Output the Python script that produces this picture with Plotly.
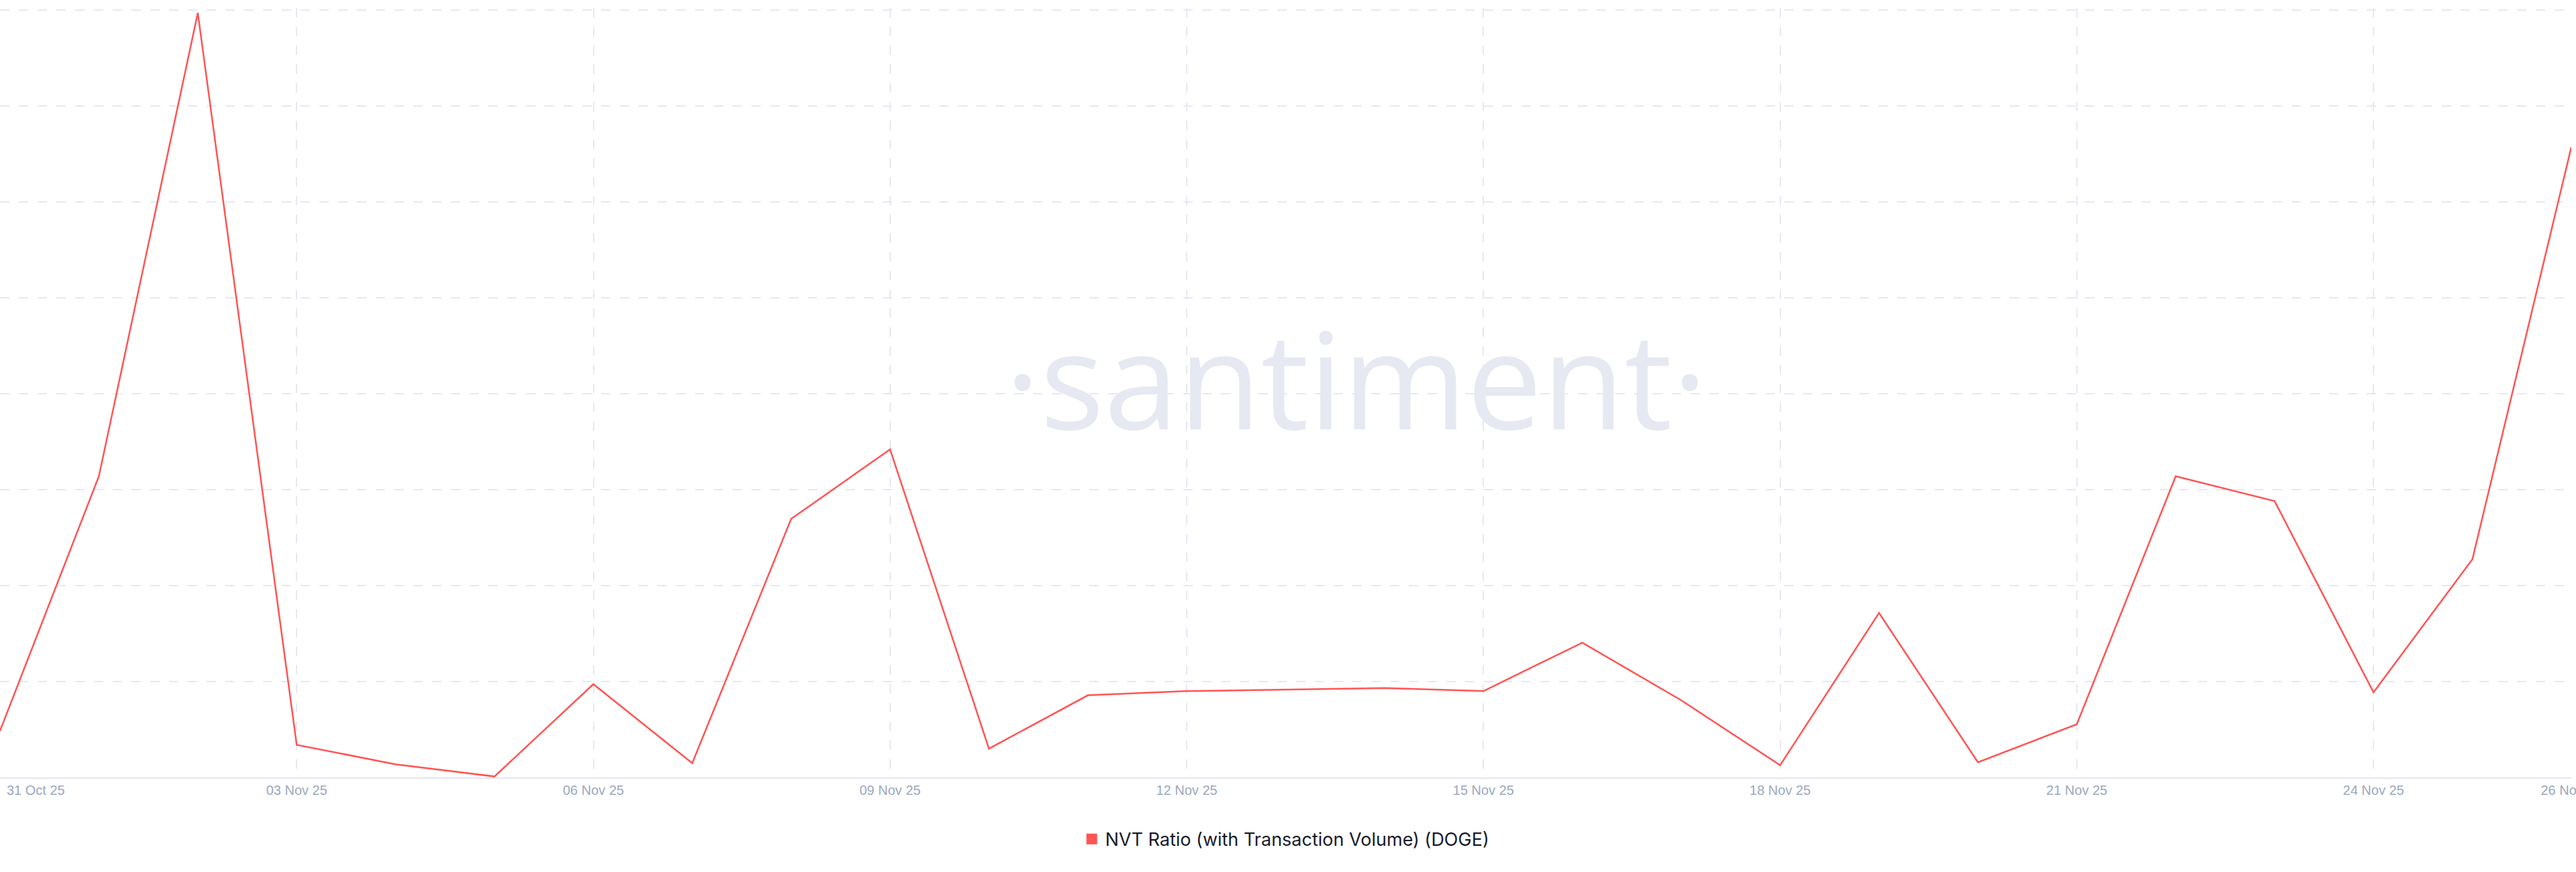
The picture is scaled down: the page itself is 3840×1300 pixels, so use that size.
import plotly.graph_objects as go

# ---- data (y-axis is unlabeled, units arbitrary) ----
dates = [
    "2025-10-31", "2025-11-01", "2025-11-02", "2025-11-03", "2025-11-04", "2025-11-05",
    "2025-11-06", "2025-11-07", "2025-11-08", "2025-11-09", "2025-11-10", "2025-11-11",
    "2025-11-12", "2025-11-13", "2025-11-14", "2025-11-15", "2025-11-16", "2025-11-17",
    "2025-11-18", "2025-11-19", "2025-11-20", "2025-11-21", "2025-11-22", "2025-11-23",
    "2025-11-24", "2025-11-25", "2025-11-26",
]
nvt_values = [
    4.85, 31.4, 79.7, 3.4, 1.36, 0.1,
    9.72, 1.48, 26.95, 34.2, 3.0, 8.56,
    9.0, 9.13, 9.31, 9.0, 14.05, 8.04,
    1.27, 17.15, 1.58, 5.54, 31.4, 28.8,
    8.87, 22.74, 65.7,
]
series_name = "NVT Ratio (with Transaction Volume) (DOGE)"

tick_dates = ["2025-10-31", "2025-11-03", "2025-11-06", "2025-11-09", "2025-11-12",
              "2025-11-15", "2025-11-18", "2025-11-21", "2025-11-24", "2025-11-26"]
tick_labels = ["31 Oct 25", "03 Nov 25", "06 Nov 25", "09 Nov 25", "12 Nov 25",
               "15 Nov 25", "18 Nov 25", "21 Nov 25", "24 Nov 25", "26 Nov 25"]
y_grid = [0, 10, 20, 30, 40, 50, 60, 70, 80]
y_top = 80.2  # a hair above the top gridline so that it is drawn

LINE_COLOR = "#ff5454"
GRID_COLOR = "#e6e9f2"
TICK_COLOR = "#9ca7bf"

fig = go.Figure()
fig.add_trace(go.Scatter(
    x=dates, y=nvt_values, mode="lines",
    line=dict(color=LINE_COLOR, width=2.5),
    name=series_name, showlegend=False,
))
# legend-only entry with a square swatch
fig.add_trace(go.Scatter(
    x=[None], y=[None], mode="markers",
    marker=dict(symbol="square", size=18, color=LINE_COLOR),
    name=series_name, showlegend=True,
))

# first tick label is drawn left-aligned inside the chart (as in the reference)
shown_ticktext = [""] + tick_labels[1:]

fig.update_layout(
    width=3840, height=1300,
    margin=dict(l=0, r=7, t=12, b=141, autoexpand=False),
    paper_bgcolor="white", plot_bgcolor="white",
    showlegend=True,
    legend=dict(
        orientation="h", x=0.5, xanchor="center", y=-0.0804, yanchor="middle",
        font=dict(family="Inter, Open Sans, sans-serif", size=27, color="#181b2b"),
        bgcolor="rgba(0,0,0,0)",
    ),
    xaxis=dict(
        type="date", automargin=False,
        range=[dates[0], dates[-1]],
        tickvals=tick_dates, ticktext=shown_ticktext,
        ticks="", showline=True, linecolor="#e3e7f1", linewidth=2,
        showgrid=True, gridcolor=GRID_COLOR, gridwidth=2, griddash="14px,14px",
        tickfont=dict(family="Liberation Sans, Arial, sans-serif", size=20, color=TICK_COLOR),
        ticklabeloverflow="allow",
        zeroline=False,
    ),
    yaxis=dict(
        automargin=False,
        range=[y_grid[0], y_top],
        tickvals=y_grid, showticklabels=False, ticks="",
        showgrid=True, gridcolor=GRID_COLOR, gridwidth=2, griddash="14px,14px",
        zeroline=False, showline=False,
    ),
)

# watermark
fig.add_annotation(
    text="·santiment·", xref="paper", yref="paper", x=0.5275, y=0.52,
    xanchor="center", yanchor="middle", showarrow=False,
    font=dict(family="Open Sans, sans-serif", size=200, color="#e6e9f2"),
)
# first date label
fig.add_annotation(
    text=tick_labels[0], xref="x", yref="paper", x=tick_dates[0], y=0,
    xanchor="left", yanchor="top", xshift=8, yshift=-6, showarrow=False,
    font=dict(family="Liberation Sans, Arial, sans-serif", size=20, color=TICK_COLOR),
)

fig.write_html("out.html", config={"displayModeBar": False},
               post_script="document.body.style.margin='0px';")
